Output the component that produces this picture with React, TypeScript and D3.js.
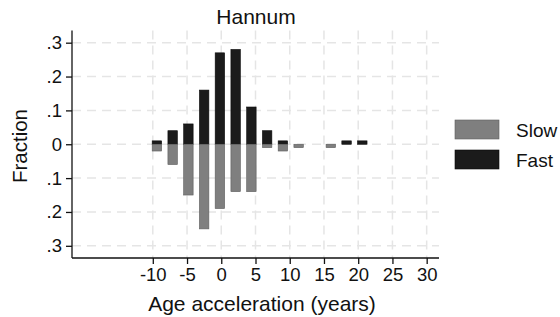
import { useEffect, useRef } from 'react';
import * as d3 from 'd3';

// histogram bin centres (years) and fractions for each group
const binCenters = [-9.4, -7.1, -4.8, -2.5, -0.2, 2.1, 4.4, 6.7, 9.0, 11.3, 16.0, 18.3, 20.6];
const fastValues = [0.01, 0.04, 0.06, 0.16, 0.27, 0.28, 0.11, 0.04, 0.01, 0, 0, 0.01, 0.01];
const slowValues = [0.02, 0.06, 0.15, 0.25, 0.19, 0.14, 0.14, 0.01, 0.02, 0.01, 0.01, 0, 0];

const xTicks = [-10, -5, 0, 5, 10, 15, 20, 25, 30];
const yTicks = [-0.3, -0.2, -0.1, 0, 0.1, 0.2, 0.3];
const legendLabels = ['Slow', 'Fast'];

const slowColour = '#7f7f7f';
const fastColour = '#1b1b1b';
const font = 'Liberation Sans, Arial, Helvetica, sans-serif';

function App() {
  const ref = useRef<SVGSVGElement>(null);
  const width = 560;
  const height = 317;

  useEffect(() => {
    const svg = d3.select(ref.current);
    svg.selectAll('*').remove();

    const left = 72;
    const right = 439;
    const top = 30.5;
    const bottom = 258;

    const xScale = d3.scaleLinear()
      .domain([-21.8, 31.8])
      .range([left, right]);

    const yScale = d3.scaleLinear()
      .domain([-0.336, 0.336])
      .range([bottom, top]);

    const barW = (xScale(1.38) - xScale(0));

    // grid
    const grid = svg.append('g')
      .attr('stroke', '#e5e5e5')
      .attr('stroke-width', 1.5)
      .attr('stroke-dasharray', '9,6');

    grid.selectAll('.hgrid')
      .data(yTicks)
      .enter()
      .append('line')
      .attr('x1', left)
      .attr('x2', right)
      .attr('y1', (d) => yScale(d))
      .attr('y2', (d) => yScale(d));

    grid.selectAll('.vgrid')
      .data(xTicks)
      .enter()
      .append('line')
      .attr('x1', (d) => xScale(d))
      .attr('x2', (d) => xScale(d))
      .attr('y1', top)
      .attr('y2', bottom);

    // bars
    const rows = binCenters.map((c, i) => ({ c, fast: fastValues[i], slow: slowValues[i] }));

    svg.append('g')
      .selectAll('rect')
      .data(rows.filter((d) => d.fast > 0))
      .enter()
      .append('rect')
      .attr('x', (d) => xScale(d.c) - barW / 2)
      .attr('y', (d) => yScale(d.fast))
      .attr('width', barW)
      .attr('height', (d) => yScale(0) - yScale(d.fast))
      .attr('fill', fastColour)
      .attr('stroke', '#0a0a0a')
      .attr('stroke-width', 0.6);

    svg.append('g')
      .selectAll('rect')
      .data(rows.filter((d) => d.slow > 0))
      .enter()
      .append('rect')
      .attr('x', (d) => xScale(d.c) - barW / 2)
      .attr('y', yScale(0))
      .attr('width', barW)
      .attr('height', (d) => yScale(-d.slow) - yScale(0))
      .attr('fill', slowColour)
      .attr('stroke', '#5e5e5e')
      .attr('stroke-width', 0.6);

    // axes
    const xAxis = d3.axisBottom(xScale)
      .tickValues(xTicks)
      .tickSize(6)
      .tickPadding(4)
      .tickFormat((d) => String(d));

    const yAxis = d3.axisLeft(yScale)
      .tickValues(yTicks)
      .tickSize(6)
      .tickPadding(4)
      .tickFormat((d) => {
        const v = Math.abs(+d);
        return v === 0 ? '0' : d3.format('.1f')(v).replace(/^0/, '');
      });

    const gx = svg.append('g')
      .attr('transform', `translate(0, ${bottom})`)
      .call(xAxis);
    gx.select('.domain').attr('d', `M${left},0H${right}`);

    const gy = svg.append('g')
      .attr('transform', `translate(${left}, 0)`)
      .call(yAxis);
    gy.select('.domain').attr('d', `M0,${top}V${bottom}`);

    [gx, gy].forEach((g) => {
      g.selectAll('path, line').attr('stroke', '#111').attr('stroke-width', 1.3);
      g.selectAll('text')
        .attr('fill', '#111')
        .style('font-family', font)
        .style('font-size', '18.5px');
    });

    // titles
    svg.append('text')
      .attr('x', 256)
      .attr('y', 24)
      .attr('text-anchor', 'middle')
      .style('font-family', font)
      .style('font-size', '21px')
      .attr('fill', '#111')
      .text('Hannum');

    svg.append('text')
      .attr('x', 262)
      .attr('y', 311)
      .attr('text-anchor', 'middle')
      .style('font-family', font)
      .style('font-size', '21px')
      .attr('fill', '#111')
      .text('Age acceleration (years)');

    svg.append('text')
      .attr('transform', 'translate(27, 146) rotate(-90)')
      .attr('text-anchor', 'middle')
      .style('font-family', font)
      .style('font-size', '20.5px')
      .attr('fill', '#111')
      .text('Fraction');

    // legend
    const legend = svg.append('g');
    const legendColours = [slowColour, fastColour];
    const legendStroke = ['#5e5e5e', '#0a0a0a'];
    legendLabels.forEach((label, i) => {
      legend.append('rect')
        .attr('x', 455)
        .attr('y', 120 + i * 30)
        .attr('width', 44)
        .attr('height', 19)
        .attr('fill', legendColours[i])
        .attr('stroke', legendStroke[i])
        .attr('stroke-width', 0.6);
      legend.append('text')
        .attr('x', 516)
        .attr('y', 136.5 + i * 30)
        .style('font-family', font)
        .style('font-size', '19px')
        .attr('fill', '#111')
        .text(label);
    });
  }, []);

  return (
    <svg
      width={width}
      height={height}
      ref={ref}
      style={{ position: 'absolute', left: 0, top: 0, background: '#fff' }}
    />
  );
}

export default App;
